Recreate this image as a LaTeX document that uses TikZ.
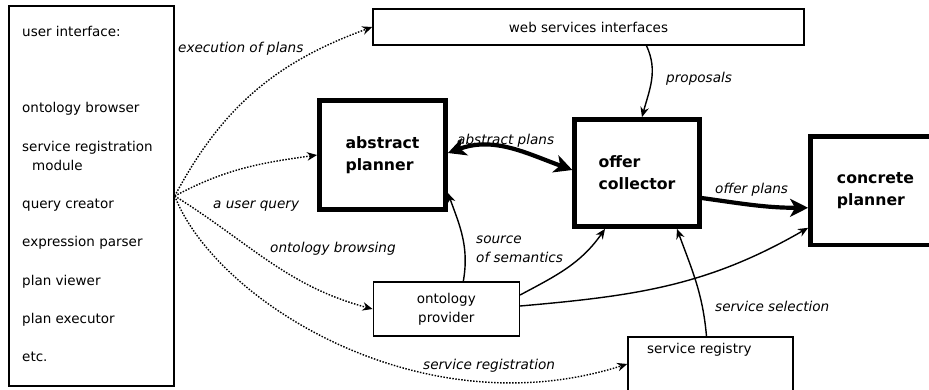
\documentclass[tikz,border=0pt]{standalone}
\usepackage{fontspec}
\setmainfont{DejaVu Sans}
\usetikzlibrary{arrows.meta,calc}

\begin{document}
\begin{tikzpicture}[x=1pt,y=-1pt,
  every node/.style={font=\fontsize{13.5}{19}\selectfont},
  box/.style={draw, line width=1.5pt, inner sep=0pt},
  bigbox/.style={draw, line width=4.8pt, inner sep=0pt, align=left,
    font=\fontsize{15.7}{22}\bfseries\selectfont},
  txt/.style={inner sep=0pt, anchor=base west},
  lbl/.style={txt, font=\fontsize{13.6}{19}\itshape\selectfont},
  flow/.style={line width=1.4pt, -{Stealth[length=10pt,width=8.5pt]}},
  dotflow/.style={flow, dash pattern=on 1.5pt off 1.5pt},
  heavy/.style={line width=4.2pt, -{Stealth[length=18pt,width=18pt,inset=5pt]}},
  heavyboth/.style={line width=4.2pt, {Stealth[length=18pt,width=18pt,inset=5pt]}-{Stealth[length=18pt,width=18pt,inset=5pt]}}
]
\useasboundingbox (0,0) rectangle (929,389);
\clip (0,0) rectangle (929,389);

% user interface column
\node[box, minimum width=165pt, minimum height=380pt] (ui) at (91.5,196) {};
\node[txt] (ui1) at (22,36)  {user interface:};
\node[txt] (ui2) at (22,112) {ontology browser};
\node[txt] (ui3) at (22,151) {service registration};
\node[txt] (ui4) at (32,170) {module};
\node[txt] (ui5) at (22,208) {query creator};
\node[txt] (ui6) at (22,246) {expression parser};
\node[txt] (ui7) at (22,285) {plan viewer};
\node[txt] (ui8) at (22,323) {plan executor};
\node[txt] (ui9) at (22,361) {etc.};

% components
\node[box, minimum width=431pt, minimum height=36pt] (web) at (588.5,27) {web services interfaces};
\node[bigbox, minimum width=126pt, minimum height=108.5pt] (abs) at (382.5,155) {abstract\\planner};
\node[bigbox, minimum width=124.5pt, minimum height=107pt] (oc) at (637,173) {offer\\collector};
\node[bigbox, minimum width=130pt, minimum height=108.5pt] (cp) at (875.5,190.8) {concrete\\planner};
\node[box, minimum width=146pt, minimum height=54pt, align=center] (ont) at (446.3,309) {ontology\\provider};
\node[box, minimum width=165pt, minimum height=80pt] (sr) at (710.5,377) {};
\node[txt] (srt) at (647,353) {service registry};

% dotted requests from the user interface
\draw[dotflow] (ui.east) to[out=62,in=200] (web.west);
\draw[dotflow] (ui.east) to[out=28,in=188] (abs.west);
\draw[dotflow] (ui.east) to[out=-32,in=165] (ont.west);
\draw[dotflow] (ui.east) .. controls (215,300) and (420,430) .. ([yshift=13pt]sr.west);

% planning flow
\draw[heavyboth] ([yshift=2pt]abs.east) to[out=20,in=160] ([yshift=3pt]oc.west);
\draw[heavy] ([yshift=-25pt]oc.east) to[out=-8,in=180] ([yshift=-17pt]cp.west);
\draw[flow] ([xshift=58pt]web.south) to[out=-65,in=75] ([xshift=5pt]oc.north);
\draw[flow] ([xshift=17pt]ont.north) to[out=80,in=-70] ([yshift=-38pt]abs.east);
\draw[flow] ([yshift=14pt]ont.east) to[out=28,in=-125] ([xshift=-32pt]oc.south);
\draw[flow] ([yshift=3pt]ont.east) to[out=5,in=-150] ([yshift=-37pt]cp.west);
\draw[flow] ([xshift=-4pt]sr.north) to[out=95,in=-70] ([xshift=40pt]oc.south);

% connector labels
\node[lbl] (l1) at (178,52)  {execution of plans};
\node[lbl] (l2) at (213,208) {a user query};
\node[lbl] (l3) at (270,252) {ontology browsing};
\node[lbl] (l4) at (423,369) {service registration};
\node[lbl] (l5) at (457,144) {abstract plans};
\node[lbl] (l6) at (666,82)  {proposals};
\node[lbl] (l7) at (715,193) {offer plans};
\node[lbl] (l8) at (476,243) {source};
\node[lbl] (l9) at (476,262) {of semantics};
\node[lbl] (l10) at (715,311) {service selection};
\end{tikzpicture}
\end{document}
